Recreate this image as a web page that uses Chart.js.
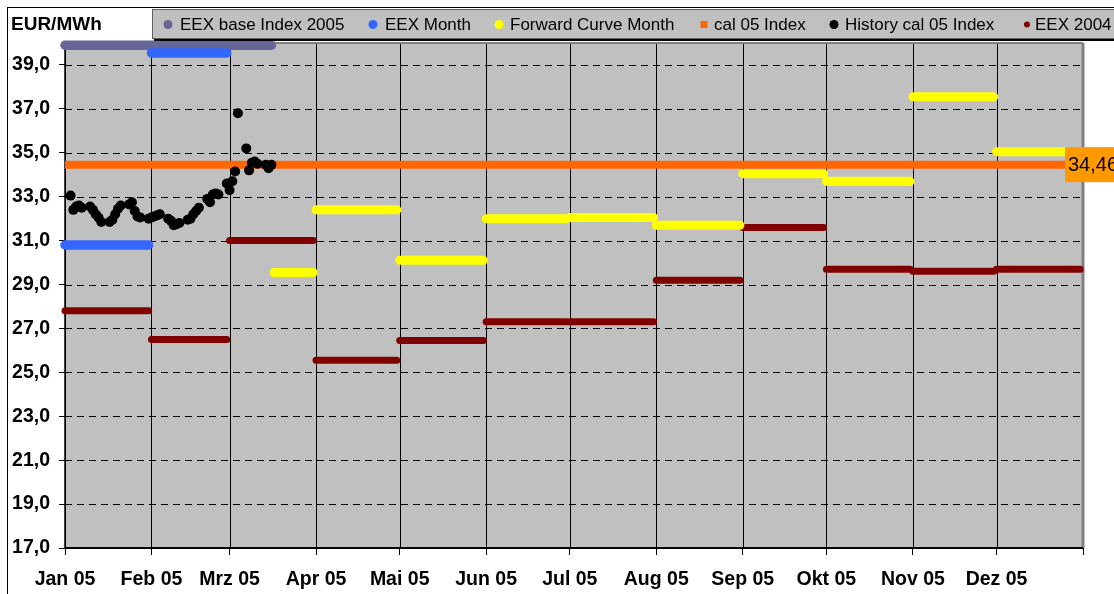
<!DOCTYPE html>
<html><head><meta charset="utf-8">
<script src="https://cdn.jsdelivr.net/npm/chart.js@4.4.1/dist/chart.umd.min.js"></script>
<style>html,body{margin:0;padding:0;background:#fff;overflow:hidden}#wrap{width:1114px;height:594px;position:relative}</style>
</head><body><div id="wrap"><canvas id="c" width="1114" height="594"></canvas></div>
<script>
// ---------- data ----------
const yAxisTitle = 'EUR/MWh';
const monthLabels = ['Jan 05','Feb 05','Mrz 05','Apr 05','Mai 05','Jun 05','Jul 05','Aug 05','Sep 05','Okt 05','Nov 05','Dez 05'];
const monthStarts = ['2005-01-01','2005-02-01','2005-03-01','2005-04-01','2005-05-01','2005-06-01','2005-07-01','2005-08-01','2005-09-01','2005-10-01','2005-11-01','2005-12-01','2006-01-01'];
const yTickValues = [17,19,21,23,25,27,29,31,33,35,37,39];
const yMin = 17, yMax = 40;

const baseIndexLabel = 'EEX base Index 2005';
const baseIndexStarts = ['2005-01-01'];
const baseIndexEnds = ['2005-03-16'];
const baseIndexValues = [39.9];

const eexMonthLabel = 'EEX Month';
const eexMonthStarts = ['2005-01-01','2005-02-01'];
const eexMonthEnds = ['2005-01-31','2005-02-28'];
const eexMonthValues = [30.8, 39.55];

const forwardLabel = 'Forward Curve Month';
const forwardStarts = ['2005-03-17','2005-04-01','2005-05-01','2005-06-01','2005-07-01','2005-08-01','2005-09-01','2005-10-01','2005-11-01','2005-12-01'];
const forwardEnds = ['2005-03-31','2005-04-30','2005-05-31','2005-06-30','2005-07-31','2005-08-31','2005-09-30','2005-10-31','2005-11-30','2005-12-31'];
const forwardValues = [29.55, 32.4, 30.1, 32.0, 32.05, 31.7, 34.05, 33.7, 37.55, 35.05];

const cal05Label = 'cal 05 Index';
const cal05Starts = ['2005-01-01'];
const cal05Ends = ['2006-01-01'];
const cal05Values = [34.46];

const historyLabel = 'History cal 05 Index';
const historyDates = ['2005-01-03','2005-01-04','2005-01-05','2005-01-06','2005-01-07','2005-01-10','2005-01-11','2005-01-12','2005-01-13','2005-01-14',
  '2005-01-17','2005-01-18','2005-01-19','2005-01-20','2005-01-21','2005-01-24','2005-01-25','2005-01-26','2005-01-27','2005-01-28','2005-01-31',
  '2005-02-01','2005-02-02','2005-02-03','2005-02-04','2005-02-07','2005-02-08','2005-02-09','2005-02-10','2005-02-11',
  '2005-02-14','2005-02-15','2005-02-16','2005-02-17','2005-02-18','2005-02-21','2005-02-22','2005-02-23','2005-02-24','2005-02-25','2005-02-28',
  '2005-03-01','2005-03-02','2005-03-03','2005-03-04','2005-03-07','2005-03-08','2005-03-09','2005-03-10','2005-03-11','2005-03-14','2005-03-15','2005-03-16'];
const historyValues = [33.05,32.4,32.55,32.6,32.5,32.55,32.4,32.2,32.05,31.85,
  31.85,31.95,32.2,32.45,32.6,32.65,32.75,32.35,32.1,32.05,32.0,
  32.05,32.1,32.15,32.2,32.0,31.9,31.7,31.75,31.8,
  31.95,32.0,32.2,32.35,32.5,32.9,32.75,33.1,33.15,33.1,33.6,
  33.3,33.7,34.15,36.8,35.2,34.2,34.55,34.6,34.5,34.45,34.3,34.45];

const eex2004Label = 'EEX 2004';
const eex2004Values = [27.8, 26.5, 31.0, 25.55, 26.45, 27.3, 27.3, 29.2, 31.6, 29.7, 29.6, 29.7];

// ---------- helpers ----------
const T0 = Date.UTC(2005,0,1);
function dayOf(s){ const p = s.split('-').map(Number); return (Date.UTC(p[0],p[1]-1,p[2]) - T0)/86400000; }
function segs(starts, ends, values){
  const out = [];
  values.forEach((v,i)=>{
    const a = dayOf(starts[i]), b = dayOf(ends[i]);
    out.push({x:a,y:v},{x:b,y:v});
    if (i < values.length-1) out.push({x:b+0.01,y:null});
  });
  return out;
}
const monthStartDays = monthStarts.map(dayOf);
const eex2004Starts = monthStarts.slice(0,12);
const eex2004Ends = monthStartDays.slice(1).map(d => { const dt = new Date(T0 + (d-1)*86400000); return dt.toISOString().slice(0,10); });

const FONT = "'Liberation Sans', Arial, sans-serif";
const fmt = v => v.toFixed(1).replace('.', ',');

// ---------- plugin: frame, grid, legend, label ----------
const decor = {
  id: 'decor',
  beforeDraw(chart){
    const {ctx, chartArea:a} = chart;
    const xs = chart.scales.x, ys = chart.scales.y;
    ctx.save();
    ctx.fillStyle = '#fff'; ctx.fillRect(0,0,chart.width,chart.height);
    ctx.strokeStyle = '#000'; ctx.lineWidth = 1;
    ctx.strokeRect(7.5, 7.5, chart.width + 20, chart.height + 20);
    ctx.fillStyle = '#c0c0c0';
    ctx.fillRect(a.left, a.top, a.right - a.left, a.bottom - a.top);
    ctx.strokeStyle = '#000'; ctx.lineWidth = 1;
    ctx.setLineDash([7,5]);
    ys.ticks.forEach(t => {
      if (t.value <= yMin) return;
      const y = Math.round(ys.getPixelForValue(t.value)) + 0.5;
      ctx.beginPath(); ctx.moveTo(a.left, y); ctx.lineTo(a.right, y); ctx.stroke();
    });
    ctx.setLineDash([]);
    xs.ticks.forEach(t => {
      const x = Math.round(xs.getPixelForValue(t.value)) + 0.5;
      ctx.beginPath(); ctx.moveTo(x, a.top); ctx.lineTo(x, a.bottom); ctx.stroke();
    });
    ctx.strokeStyle = '#808080'; ctx.lineWidth = 2;
    ctx.beginPath(); ctx.moveTo(a.left, a.top); ctx.lineTo(a.right, a.top); ctx.stroke();
    ctx.lineWidth = 3;
    ctx.beginPath(); ctx.moveTo(a.right, a.top); ctx.lineTo(a.right, a.bottom); ctx.stroke();
    ctx.strokeStyle = '#000'; ctx.lineWidth = 1.5;
    ctx.beginPath(); ctx.moveTo(a.left, a.top); ctx.lineTo(a.left, a.bottom + 1); ctx.stroke();
    ctx.lineWidth = 2;
    ctx.beginPath(); ctx.moveTo(a.left, a.bottom); ctx.lineTo(a.right, a.bottom); ctx.stroke();
    ctx.restore();
  },
  afterDraw(chart){
    const {ctx, chartArea:a} = chart;
    ctx.save();
    // value label for cal 05 index
    const ci = chart.data.datasets.findIndex(d => d.label === cal05Label);
    const meta = chart.getDatasetMeta(ci);
    const pt = meta.data[meta.data.length-1];
    const bx = a.right - 18, bh = 35;
    ctx.fillStyle = '#ff9900';
    ctx.fillRect(bx, pt.y - bh/2, chart.width - bx, bh);
    ctx.fillStyle = '#000';
    ctx.font = '20px ' + FONT;
    ctx.textBaseline = 'middle'; ctx.textAlign = 'left';
    ctx.fillText(cal05Values[0].toFixed(2).replace('.', ','), bx + 3, pt.y + 1);

    // legend box
    const lx = 152, ly = 9, lh = 30;
    ctx.fillStyle = '#000';
    ctx.fillRect(lx + 2, ly + 2, chart.width, lh);
    ctx.fillStyle = '#c0c0c0';
    ctx.fillRect(lx, ly, chart.width, lh);
    ctx.strokeStyle = '#606060'; ctx.lineWidth = 1;
    ctx.strokeRect(lx + 0.5, ly + 0.5, chart.width, lh - 1);
    const markerX = [168, 373, 499, 704, 834, 1027];
    const textX = [180, 385, 510, 714, 845, 1035];
    const cy = 24.5;
    ctx.font = '17px ' + FONT;
    ctx.textBaseline = 'middle';
    chart.data.datasets.forEach((ds, i) => {
      ctx.fillStyle = ds.legendColor;
      if (ds.legendShape === 'square') {
        ctx.fillRect(markerX[i] - 3.5, cy - 3.5, 7, 7);
      } else {
        ctx.beginPath(); ctx.arc(markerX[i], cy, ds.legendRadius, 0, Math.PI*2); ctx.fill();
      }
      ctx.fillStyle = '#000';
      ctx.fillText(ds.label, textX[i], cy + 0.5);
    });

    // axis unit title
    ctx.font = 'bold 19px ' + FONT;
    ctx.fillStyle = '#000';
    ctx.fillText(yAxisTitle, 11, 25);
    ctx.restore();
  }
};

const lineBase = { pointRadius: 0, pointHoverRadius: 0, borderCapStyle: 'round', spanGaps: false, clip: false, tension: 0, fill: false };

new Chart(document.getElementById('c'), {
  type: 'line',
  data: {
    datasets: [
      Object.assign({}, lineBase, { label: baseIndexLabel, data: segs(baseIndexStarts, baseIndexEnds, baseIndexValues),
        borderColor: '#666699', borderWidth: 9.5, order: 5, legendColor: '#666699', legendRadius: 4.5 }),
      Object.assign({}, lineBase, { label: eexMonthLabel, data: segs(eexMonthStarts, eexMonthEnds, eexMonthValues),
        borderColor: '#3366ff', borderWidth: 9.5, order: 3, legendColor: '#3366ff', legendRadius: 4.5 }),
      Object.assign({}, lineBase, { label: forwardLabel, data: segs(forwardStarts, forwardEnds, forwardValues),
        borderColor: '#ffff00', borderWidth: 9, order: 2, legendColor: '#ffff00', legendRadius: 4.5 }),
      Object.assign({}, lineBase, { label: cal05Label, data: segs(cal05Starts, cal05Ends, cal05Values),
        borderColor: '#ff6600', borderWidth: 8, borderCapStyle: 'butt', order: 1, legendColor: '#ff6600', legendShape: 'square' }),
      { label: historyLabel, data: historyDates.map((d,i) => ({x: dayOf(d), y: historyValues[i]})),
        showLine: false, pointRadius: 5, pointHoverRadius: 5, pointBackgroundColor: '#000', pointBorderWidth: 0,
        borderColor: '#000', clip: false, order: 0, legendColor: '#000', legendRadius: 4.5 },
      Object.assign({}, lineBase, { label: eex2004Label, data: segs(eex2004Starts, eex2004Ends, eex2004Values),
        borderColor: '#800000', borderWidth: 7, order: 4, legendColor: '#800000', legendRadius: 3 })
    ]
  },
  options: {
    responsive: false, animation: false, devicePixelRatio: 1,
    layout: { padding: { top: 43, right: 31, left: 0, bottom: 0 } },
    plugins: { legend: { display: false }, tooltip: { enabled: false } },
    events: [],
    scales: {
      x: {
        type: 'linear', min: 0, max: 365,
        afterBuildTicks(s){ s.ticks = monthStartDays.map(v => ({ value: v })); },
        afterFit(s){ s.height = 46; },
        ticks: { autoSkip: false, maxRotation: 0, minRotation: 0, padding: 13, color: '#000',
          font: { family: FONT, size: 19.5, weight: 'bold' },
          callback: (v, i) => monthLabels[i] || '' },
        grid: { display: true, drawOnChartArea: false, drawTicks: true, tickLength: 7, color: '#000', lineWidth: 1 },
        border: { display: false }
      },
      y: {
        type: 'linear', min: yMin, max: yMax,
        afterBuildTicks(s){ s.ticks = yTickValues.map(v => ({ value: v })); },
        afterFit(s){ s.width = 65; },
        ticks: { padding: 9, color: '#000', font: { family: FONT, size: 19.5, weight: 'bold' },
          callback: v => fmt(v) },
        grid: { display: true, drawOnChartArea: false, drawTicks: true, tickLength: 6, color: '#000', lineWidth: 1 },
        border: { display: false }
      }
    }
  },
  plugins: [decor]
});
</script>
</body></html>
